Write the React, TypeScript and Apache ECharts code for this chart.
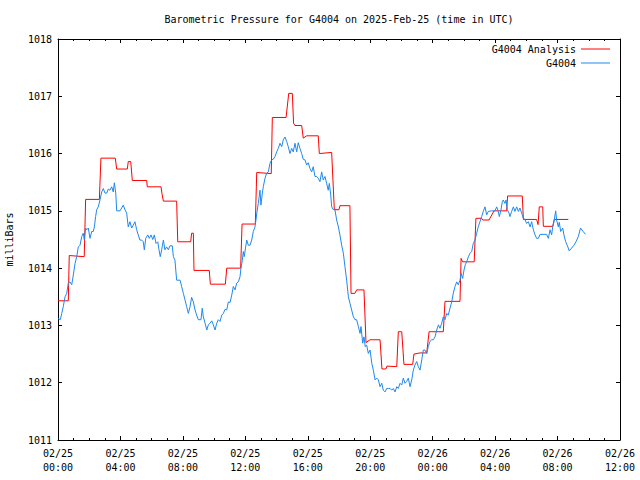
import React, { useEffect, useRef } from "react";
import * as echarts from "echarts";

// X axis: hours since 2025-02-25 00:00 UTC
const xTickDates = ["02/25", "02/25", "02/25", "02/25", "02/25", "02/25", "02/26", "02/26", "02/26", "02/26"];
const xTickTimes = ["00:00", "04:00", "08:00", "12:00", "16:00", "20:00", "00:00", "04:00", "08:00", "12:00"];
const yTickLabels = ["1011", "1012", "1013", "1014", "1015", "1016", "1017", "1018"];

const seriesNames = ["G4004 Analysis", "G4004"];

// Analysis (step-like) series
const analysisHours = [
  0, 0.66, 0.72, 1.68, 1.77, 2.65, 2.75, 3.67, 3.76, 4.44, 4.5, 4.66, 4.76, 5.68, 5.72, 6.6, 6.66, 6.75,
  7.6, 7.67, 8.5, 8.56, 8.67, 8.71, 9.69, 9.76, 10.72, 10.81, 11.7, 11.79, 12.64, 12.73, 13.66, 13.73,
  14.61, 14.78, 15.01, 15.09, 15.18, 15.61, 15.71, 15.93, 16.67, 16.74, 17.53, 17.7, 18.0, 18.06, 18.7,
  18.77, 19.02, 19.13, 19.6, 19.73, 19.99, 20.63, 20.75, 21.01, 21.07, 21.7, 21.8, 22.02, 22.16, 22.72,
  22.8, 23.19, 23.62, 23.77, 24.68, 24.79, 25.75, 25.82, 25.92, 26.66, 26.77, 27.14, 27.2, 27.61, 27.93,
  28.74, 28.8, 29.74, 29.81, 30.66, 30.75, 30.83, 31.05, 31.09, 31.69, 31.79, 32.69,
];
const analysisValues = [
  1013.43, 1013.43, 1014.22, 1014.2, 1015.2, 1015.2, 1015.92, 1015.92, 1015.73, 1015.73, 1015.86, 1015.86,
  1015.53, 1015.53, 1015.42, 1015.42, 1015.3, 1015.17, 1015.17, 1014.46, 1014.46, 1014.61, 1014.61, 1013.96,
  1013.96, 1013.72, 1013.72, 1014.0, 1014.0, 1014.77, 1014.77, 1015.67, 1015.65, 1016.63, 1016.63, 1017.05,
  1017.05, 1016.53, 1016.49, 1016.49, 1016.27, 1016.31, 1016.31, 1016.0, 1016.02, 1015.02, 1015.02, 1015.09,
  1015.09, 1013.56, 1013.56, 1013.62, 1013.62, 1012.7, 1012.75, 1012.75, 1012.24, 1012.24, 1012.29, 1012.28,
  1012.89, 1012.89, 1012.32, 1012.32, 1012.5, 1012.52, 1012.52, 1012.89, 1012.89, 1013.42, 1013.42, 1014.17,
  1014.11, 1014.11, 1014.87, 1014.87, 1014.84, 1014.84, 1015.0, 1015.0, 1015.26, 1015.26, 1014.85, 1014.85,
  1014.76, 1015.07, 1015.07, 1014.73, 1014.73, 1014.85, 1014.85,
];

// Station observations
const stationHours = [
  0, 0.15, 0.24, 0.34, 0.45, 0.56, 0.66, 0.77, 0.88, 0.98, 1.09, 1.2, 1.3, 1.41, 1.52, 1.62, 1.68, 1.77,
  1.84, 1.94, 2.05, 2.16, 2.26, 2.33, 2.41, 2.48, 2.58, 2.69, 2.8, 2.9, 3.01, 3.12, 3.22, 3.33, 3.44, 3.54,
  3.61, 3.7, 3.76, 3.97, 4.08, 4.18, 4.29, 4.4, 4.5, 4.61, 4.72, 4.82, 4.93, 5.04, 5.14, 5.25, 5.36, 5.46,
  5.53, 5.62, 5.75, 5.85, 5.96, 6.07, 6.17, 6.28, 6.39, 6.47, 6.55, 6.64, 6.75, 6.85, 6.96, 7.07, 7.17,
  7.32, 7.39, 7.49, 7.6, 7.82, 7.92, 8.03, 8.14, 8.24, 8.35, 8.46, 8.56, 8.67, 8.78, 8.88, 8.99, 9.16,
  9.24, 9.31, 9.42, 9.53, 9.63, 9.74, 9.85, 9.95, 10.06, 10.17, 10.27, 10.38, 10.49, 10.59, 10.7, 10.81,
  10.91, 11.02, 11.13, 11.23, 11.34, 11.45, 11.55, 11.66, 11.72, 11.81, 11.87, 11.93, 12.02, 12.09, 12.19,
  12.3, 12.41, 12.51, 12.62, 12.68, 12.75, 12.83, 12.94, 13.0, 13.09, 13.15, 13.26, 13.37, 13.47, 13.58,
  13.69, 13.79, 13.9, 14.01, 14.11, 14.22, 14.33, 14.43, 14.54, 14.65, 14.75, 14.86, 14.97, 15.07, 15.18,
  15.29, 15.39, 15.5, 15.61, 15.71, 15.82, 15.93, 16.03, 16.14, 16.25, 16.35, 16.46, 16.57, 16.67, 16.78,
  16.89, 16.99, 17.1, 17.21, 17.31, 17.38, 17.47, 17.53, 17.64, 17.74, 17.85, 17.96, 18.06, 18.17, 18.28,
  18.38, 18.49, 18.6, 18.7, 18.81, 18.92, 19.02, 19.13, 19.24, 19.35, 19.41, 19.52, 19.6, 19.68, 19.77,
  19.88, 19.99, 20.1, 20.2, 20.31, 20.42, 20.52, 20.63, 20.74, 20.84, 20.95, 21.06, 21.16, 21.27, 21.38,
  21.48, 21.59, 21.7, 21.8, 21.91, 22.02, 22.12, 22.23, 22.33, 22.44, 22.55, 22.66, 22.76, 22.87, 22.98,
  23.08, 23.19, 23.3, 23.4, 23.51, 23.62, 23.72, 23.83, 23.94, 24.04, 24.15, 24.26, 24.37, 24.47, 24.58,
  24.68, 24.79, 24.9, 25.0, 25.11, 25.22, 25.32, 25.43, 25.54, 25.64, 25.75, 25.82, 25.92, 26.01, 26.09,
  26.18, 26.29, 26.39, 26.5, 26.6, 26.71, 26.82, 26.92, 27.03, 27.14, 27.24, 27.35, 27.46, 27.56, 27.78,
  27.99, 28.1, 28.2, 28.27, 28.38, 28.46, 28.52, 28.63, 28.7, 28.78, 28.89, 28.95, 29.06, 29.17, 29.27,
  29.38, 29.49, 29.59, 29.7, 29.81, 29.91, 30.02, 30.13, 30.24, 30.34, 30.45, 30.56, 30.66, 30.77, 30.88,
  31.3, 31.41, 31.52, 31.62, 31.69, 31.77, 31.88, 31.94, 32.05, 32.11, 32.2, 32.33, 32.41, 32.52, 32.62,
  32.75, 32.9, 33.05, 33.18, 33.33, 33.47, 33.64, 33.79,
];
const stationValues = [
  1013.12, 1013.1, 1013.21, 1013.33, 1013.5, 1013.56, 1013.74, 1013.76, 1013.71, 1013.88, 1014.08, 1014.2,
  1014.37, 1014.4, 1014.55, 1014.61, 1014.5, 1014.7, 1014.67, 1014.7, 1014.52, 1014.64, 1014.64, 1014.72,
  1014.9, 1015.02, 1015.07, 1015.19, 1015.33, 1015.39, 1015.31, 1015.31, 1015.38, 1015.36, 1015.42, 1015.33,
  1015.49, 1015.31, 1015.0, 1015.0, 1015.05, 1015.1, 1015.02, 1014.96, 1014.72, 1014.81, 1014.7, 1014.75,
  1014.81, 1014.67, 1014.58, 1014.49, 1014.49, 1014.46, 1014.32, 1014.52, 1014.58, 1014.52, 1014.58, 1014.5,
  1014.58, 1014.43, 1014.46, 1014.32, 1014.2, 1014.32, 1014.49, 1014.32, 1014.37, 1014.32, 1014.39, 1014.39,
  1014.2, 1014.14, 1013.79, 1013.79, 1013.68, 1013.56, 1013.44, 1013.33, 1013.21, 1013.33, 1013.49, 1013.41,
  1013.27, 1013.18, 1013.1, 1013.1, 1013.3, 1013.15, 1013.04, 1012.92, 1013.01, 1013.04, 1013.08, 1013.01,
  1012.92, 1013.04, 1013.1, 1013.07, 1013.18, 1013.21, 1013.28, 1013.27, 1013.41, 1013.4, 1013.53, 1013.68,
  1013.62, 1013.74, 1013.76, 1013.85, 1014.0, 1014.14, 1014.29, 1014.2, 1014.37, 1014.49, 1014.4, 1014.4,
  1014.49, 1014.64, 1014.72, 1014.84, 1014.99, 1015.13, 1015.36, 1015.1, 1015.31, 1015.42, 1015.57, 1015.66,
  1015.68, 1015.83, 1015.89, 1015.9, 1015.95, 1016.03, 1016.09, 1016.18, 1016.12, 1016.24, 1016.29, 1016.21,
  1016.12, 1016.0, 1016.09, 1016.03, 1016.18, 1016.03, 1016.19, 1016.09, 1016.0, 1015.9, 1015.89, 1015.8,
  1015.84, 1015.74, 1015.68, 1015.77, 1015.6, 1015.6, 1015.57, 1015.51, 1015.68, 1015.54, 1015.6, 1015.48,
  1015.36, 1015.48, 1015.28, 1015.07, 1015.02, 1015.02, 1014.84, 1014.72, 1014.58, 1014.4, 1014.26, 1014.03,
  1013.79, 1013.5, 1013.39, 1013.27, 1013.15, 1013.1, 1013.1, 1012.98, 1012.86, 1012.98, 1012.69, 1012.8,
  1012.63, 1012.66, 1012.51, 1012.57, 1012.34, 1012.22, 1012.05, 1012.08, 1012.05, 1011.93, 1011.99, 1011.87,
  1011.84, 1011.9, 1011.9, 1011.9, 1011.87, 1011.9, 1011.84, 1011.93, 1011.9, 1011.99, 1011.96, 1012.08,
  1011.99, 1012.02, 1012.08, 1011.93, 1012.05, 1012.22, 1012.31, 1012.37, 1012.28, 1012.22, 1012.4, 1012.57,
  1012.57, 1012.51, 1012.63, 1012.72, 1012.75, 1012.75, 1012.8, 1012.92, 1013.01, 1012.95, 1013.04, 1013.15,
  1013.1, 1013.21, 1013.18, 1013.3, 1013.41, 1013.56, 1013.68, 1013.76, 1013.71, 1013.79, 1013.91, 1013.82,
  1013.97, 1014.06, 1014.11, 1014.2, 1014.26, 1014.29, 1014.43, 1014.49, 1014.61, 1014.72, 1014.81, 1014.9,
  1014.99, 1015.07, 1014.93, 1014.99, 1015.0, 1015.0, 1015.07, 1014.99, 1014.9, 1015.02, 1015.16, 1015.19,
  1015.13, 1015.19, 1015.02, 1014.96, 1014.9, 1014.99, 1015.07, 1014.99, 1015.07, 1014.99, 1015.05, 1014.96,
  1014.87, 1014.85, 1014.78, 1014.81, 1014.72, 1014.81, 1014.67, 1014.58, 1014.52, 1014.52, 1014.59, 1014.59,
  1014.52, 1014.67, 1014.58, 1014.72, 1014.81, 1015.0, 1014.84, 1014.72, 1014.8, 1014.64, 1014.7, 1014.58,
  1014.46, 1014.4, 1014.3, 1014.35, 1014.4, 1014.46, 1014.55, 1014.7, 1014.64, 1014.59,
];

const FONT = "'DejaVu Sans Mono', 'Liberation Mono', monospace";

export default function App() {
  const ref = useRef<HTMLDivElement>(null);

  useEffect(() => {
    if (!ref.current) return;
    const chart = echarts.init(ref.current, undefined, { renderer: "svg" });

    const analysisData = analysisHours.map((h, i) => [h, analysisValues[i]]);
    const stationData = stationHours.map((h, i) => [h, stationValues[i]]);

    const xLabel = (v: number) => {
      const idx = Math.round(v / 4);
      return `${xTickDates[idx] ?? ""}\n${xTickTimes[idx] ?? ""}`;
    };
    const yLabel = (v: number) => yTickLabels[Math.round(v - 1011)] ?? "";

    const baseX = {
      type: "value" as const,
      min: 0,
      max: 36,
      interval: 4,
      splitLine: { show: false },
      axisLine: { show: true, onZero: false, lineStyle: { color: "#000", width: 1 } },
      axisTick: { show: true, inside: true, length: 4, lineStyle: { color: "#000" } },
      minorTick: { show: true, splitNumber: 4, length: 2, lineStyle: { color: "#000" } },
    };
    const baseY = {
      type: "value" as const,
      min: 1011,
      max: 1018,
      interval: 1,
      splitLine: { show: false },
      axisLine: { show: true, onZero: false, lineStyle: { color: "#000", width: 1 } },
      axisTick: { show: true, inside: true, length: 4, lineStyle: { color: "#000" } },
    };

    chart.setOption({
      animation: false,
      backgroundColor: "#fff",
      title: {
        text: "Barometric Pressure for G4004 on 2025-Feb-25 (time in UTC)",
        left: 339,
        top: 13,
        padding: 0,
        textAlign: "center",
        textStyle: { fontFamily: FONT, fontSize: 10, fontWeight: "normal", color: "#000", lineHeight: 12 },
      },
      legend: {
        data: seriesNames,
        orient: "vertical",
        right: 30,
        top: 43,
        padding: 0,
        align: "right",
        icon: "rect",
        itemWidth: 29,
        itemHeight: 1,
        itemGap: 2,
        textStyle: { fontFamily: FONT, fontSize: 10, color: "#000", lineHeight: 12 },
      },
      grid: {
        left: 58,
        top: 39,
        width: 562,
        height: 401,
        containLabel: false,
        outerBoundsMode: "none",
      },
      xAxis: [
        {
          ...baseX,
          position: "bottom",
          axisLabel: {
            show: true,
            margin: 6,
            formatter: xLabel,
            fontFamily: FONT,
            fontSize: 10,
            lineHeight: 14,
            color: "#000",
          },
        },
        { ...baseX, position: "top", axisLabel: { show: false } },
      ],
      yAxis: [
        {
          ...baseY,
          position: "left",
          name: "milliBars",
          nameLocation: "middle",
          nameGap: 44,
          nameTextStyle: { fontFamily: FONT, fontSize: 10, color: "#000" },
          axisLabel: { show: true, margin: 6, formatter: yLabel, fontFamily: FONT, fontSize: 10, color: "#000" },
        },
        { ...baseY, position: "right", axisLabel: { show: false } },
      ],
      series: [
        {
          name: seriesNames[0],
          type: "line",
          data: analysisData,
          showSymbol: false,
          symbol: "none",
          lineStyle: { color: "#ff0000", width: 1 },
          itemStyle: { color: "#ff0000" },
          xAxisIndex: 0,
          yAxisIndex: 0,
        },
        {
          name: seriesNames[1],
          type: "line",
          data: stationData,
          showSymbol: false,
          symbol: "none",
          lineStyle: { color: "#1e88f0", width: 1 },
          itemStyle: { color: "#1e88f0" },
          xAxisIndex: 0,
          yAxisIndex: 0,
        },
      ],
    });

    return () => chart.dispose();
  }, []);

  return (
    <div
      ref={ref}
      style={{ position: "fixed", left: 0, top: 0, width: 640, height: 480, background: "#fff" }}
    />
  );
}
